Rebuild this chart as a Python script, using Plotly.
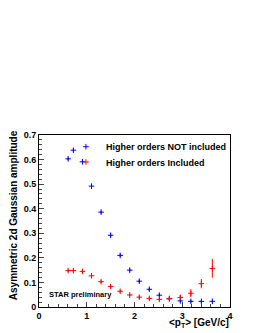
import plotly.graph_objects as go

pt = [0.61, 0.72, 0.91, 1.10, 1.30, 1.50, 1.70, 1.90, 2.10, 2.31, 2.52, 2.73, 2.96, 3.18, 3.40, 3.63]
amp_not = [0.603, 0.638, 0.591, 0.492, 0.386, 0.292, 0.210, 0.150, 0.105, 0.072, 0.048, 0.033, 0.025, 0.023, 0.023, 0.023]
err_not = [0.006] * 16
amp_inc = [0.148, 0.148, 0.145, 0.127, 0.103, 0.083, 0.064, 0.049, 0.040, 0.035, 0.031, 0.035, 0.039, 0.056, 0.095, 0.157]
err_inc = [0.006, 0.006, 0.006, 0.006, 0.006, 0.006, 0.006, 0.006, 0.006, 0.006, 0.006, 0.006, 0.010, 0.016, 0.019, 0.038]

FONT = "Liberation Sans"

fig = go.Figure()
for name, y, ey, col, lg in [
    ("Higher orders NOT included", amp_not, err_not, "#0000ff", "legend"),
    ("Higher orders Included", amp_inc, err_inc, "#ff0000", "legend2"),
]:
    fig.add_trace(go.Scatter(
        x=pt, y=y, mode="markers", name=name, legend=lg,
        marker=dict(symbol="cross-thin", size=4, color=col, line=dict(color=col, width=1)),
        error_y=dict(type="data", array=ey, color=col, thickness=1, width=0),
    ))

leg_common = dict(xanchor="left", yanchor="middle", bgcolor="rgba(0,0,0,0)",
                  font=dict(size=9, weight="bold", family=FONT), itemwidth=30,
                  borderwidth=0)

# the page body adds an 8px offset; the figure is sized to compensate
fig.update_layout(
    width=250, height=325,
    margin=dict(l=31, r=28, t=127, b=23),
    paper_bgcolor="white", plot_bgcolor="white",
    font=dict(family=FONT, size=9, color="black", weight="bold"),
    showlegend=True,
    legend=dict(x=0.141, y=0.932, **leg_common),
    legend2=dict(x=0.141, y=0.843, **leg_common),
    xaxis=dict(range=[0, 4], tickvals=[0, 1, 2, 3, 4], ticks="inside", ticklen=5,
               showgrid=False, zeroline=False, showline=True, linecolor="black",
               linewidth=1, mirror=True, tickfont=dict(size=9, weight="bold"),
               minor=dict(ticks="inside", ticklen=3, dtick=0.2, showgrid=False)),
    yaxis=dict(range=[0, 0.7], tickvals=[0, 0.1, 0.2, 0.3, 0.4, 0.5, 0.6, 0.7],
               ticktext=["0", "0.1", "0.2", "0.3", "0.4", "0.5", "0.6", "0.7"],
               ticks="inside", ticklen=5,
               showgrid=False, zeroline=False, showline=True, linecolor="black",
               linewidth=1, mirror=True, tickfont=dict(size=9, weight="bold"),
               minor=dict(ticks="inside", ticklen=3, dtick=0.02, showgrid=False)),
    annotations=[
        dict(text="<p<sub>T</sub>> [GeV/c]", xref="paper", yref="paper", x=1.005, y=-0.093,
             xanchor="right", yanchor="middle", showarrow=False, font=dict(size=10, weight="bold")),
        dict(text="Asymmetric 2d Gaussian amplitude", xref="paper", yref="paper",
             x=-0.134, y=0.536, xanchor="center", yanchor="middle", textangle=-90,
             showarrow=False, font=dict(size=10, weight="bold")),
        dict(text="STAR preliminary", xref="paper", yref="paper", x=0.04, y=0.07,
             xanchor="left", yanchor="middle", showarrow=False, font=dict(size=7.5, weight="bold")),
    ],
)

fig.write_html("out.html")
